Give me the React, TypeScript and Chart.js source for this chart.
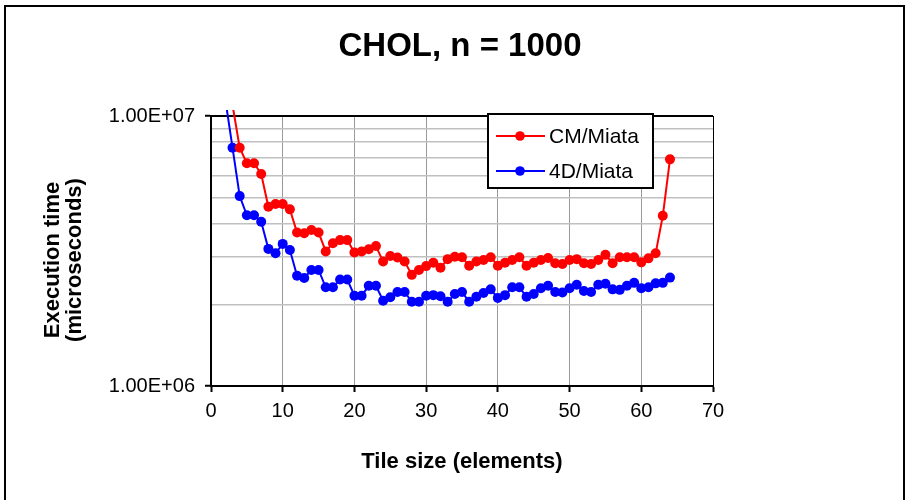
import React, { useEffect, useRef } from 'react';
import { Chart, registerables } from 'chart.js';

Chart.register(...registerables);

const chartTitle = 'CHOL, n = 1000';
const xAxisTitle = 'Tile size (elements)';
const yAxisTitle = ['Execution time', '(microseconds)'];
const seriesLabels = ['CM/Miata', '4D/Miata'];
const seriesColors = ['#FF0000', '#0000FF'];

// tile sizes (elements)
const tileSizes = [
  2, 3, 4, 5, 6, 7, 8, 9, 10, 11, 12, 13, 14, 15, 16, 17, 18, 19, 20, 21, 22, 23,
  24, 25, 26, 27, 28, 29, 30, 31, 32, 33, 34, 35, 36, 37, 38, 39, 40, 41, 42, 43,
  44, 45, 46, 47, 48, 49, 50, 51, 52, 53, 54, 55, 56, 57, 58, 59, 60, 61, 62, 63, 64,
];

// CM/Miata execution time (microseconds), no value at tile size 2
const cmMiata = [
  null, 1.1e7, 7.63e6, 6.68e6, 6.68e6, 6.1e6, 4.61e6, 4.72e6, 4.72e6, 4.51e6,
  3.7e6, 3.68e6, 3.78e6, 3.7e6, 3.15e6, 3.38e6, 3.47e6, 3.47e6, 3.12e6, 3.15e6,
  3.21e6, 3.3e6, 2.89e6, 3.03e6, 2.99e6, 2.89e6, 2.58e6, 2.69e6, 2.78e6, 2.86e6,
  2.74e6, 2.95e6, 3.01e6, 3.0e6, 2.79e6, 2.89e6, 2.93e6, 3.0e6, 2.79e6, 2.86e6,
  2.93e6, 3.0e6, 2.79e6, 2.86e6, 2.93e6, 2.98e6, 2.85e6, 2.83e6, 2.93e6, 2.95e6,
  2.85e6, 2.83e6, 2.93e6, 3.06e6, 2.85e6, 3.0e6, 3.0e6, 3.0e6, 2.87e6, 2.97e6,
  3.1e6, 4.27e6, 6.91e6,
];

// 4D/Miata execution time (microseconds)
const fdMiata = [
  1.15e7, 7.63e6, 5.05e6, 4.29e6, 4.29e6, 4.06e6, 3.22e6, 3.1e6, 3.36e6, 3.19e6,
  2.56e6, 2.51e6, 2.69e6, 2.69e6, 2.32e6, 2.32e6, 2.48e6, 2.48e6, 2.16e6, 2.16e6,
  2.35e6, 2.35e6, 2.07e6, 2.13e6, 2.23e6, 2.23e6, 2.05e6, 2.05e6, 2.16e6, 2.17e6,
  2.15e6, 2.05e6, 2.19e6, 2.23e6, 2.05e6, 2.14e6, 2.21e6, 2.28e6, 2.12e6, 2.17e6,
  2.32e6, 2.32e6, 2.14e6, 2.19e6, 2.3e6, 2.35e6, 2.23e6, 2.22e6, 2.3e6, 2.37e6,
  2.25e6, 2.23e6, 2.37e6, 2.39e6, 2.28e6, 2.27e6, 2.35e6, 2.41e6, 2.3e6, 2.32e6,
  2.4e6, 2.41e6, 2.52e6,
];

const xMin = 0;
const xMax = 70;
const xStep = 10;
const yMin = 1e6;
const yMax = 1e7;
// y gridline values (log minor grid)
const yGridValues = [1e6, 2e6, 3e6, 4e6, 5e6, 6e6, 7e6, 8e6, 9e6, 1e7];
const yLabelValues = [1e6, 1e7];
const yLabelTexts = ['1.00E+06', '1.00E+07'];

const FONT = '"Liberation Sans", Arial, sans-serif';

const framePlugin = {
  id: 'frameAndLegend',
  beforeDraw(chart: any) {
    const ctx = chart.ctx;
    ctx.save();
    ctx.fillStyle = '#ffffff';
    ctx.fillRect(0, 0, chart.width, chart.height);
    ctx.strokeStyle = '#000000';
    ctx.lineWidth = 2;
    ctx.strokeRect(5, 6, 899, 600);
    ctx.restore();
  },
  beforeDatasetsDraw(chart: any) {
    const { ctx, chartArea } = chart;
    ctx.save();
    ctx.strokeStyle = '#000000';
    ctx.lineWidth = 1;
    ctx.beginPath();
    ctx.moveTo(chartArea.left, chartArea.top + 0.5);
    ctx.lineTo(chartArea.right + 0.5, chartArea.top + 0.5);
    ctx.lineTo(chartArea.right + 0.5, chartArea.bottom);
    ctx.stroke();
    ctx.restore();
  },
  afterDraw(chart: any) {
    const { ctx, chartArea } = chart;
    ctx.save();
    // y-axis title (two lines, rotated), centred slightly below the plot middle
    ctx.fillStyle = '#000000';
    ctx.font = `bold 22px ${FONT}`;
    ctx.textAlign = 'center';
    ctx.textBaseline = 'middle';
    const cy = (chartArea.top + chartArea.bottom) / 2 + 9;
    yAxisTitle.forEach((line, i) => {
      ctx.save();
      ctx.translate(53 + i * 21.5, cy);
      ctx.rotate(-Math.PI / 2);
      ctx.fillText(line, 0, 0);
      ctx.restore();
    });

    // legend
    const x0 = chartArea.left + 277;
    const y0 = chartArea.top - 2;
    const w = 165;
    const h = 74;
    ctx.fillStyle = '#ffffff';
    ctx.fillRect(x0, y0, w, h);
    ctx.strokeStyle = '#000000';
    ctx.lineWidth = 2;
    ctx.strokeRect(x0, y0, w, h);
    chart.data.datasets.forEach((ds: any, i: number) => {
      const y = y0 + 22 + i * 35;
      ctx.strokeStyle = ds.borderColor;
      ctx.lineWidth = 2;
      ctx.beginPath();
      ctx.moveTo(x0 + 8, y);
      ctx.lineTo(x0 + 57, y);
      ctx.stroke();
      ctx.fillStyle = ds.backgroundColor;
      ctx.beginPath();
      ctx.arc(x0 + 32, y, 4.8, 0, Math.PI * 2);
      ctx.fill();
      ctx.fillStyle = '#000000';
      ctx.font = `21px ${FONT}`;
      ctx.textBaseline = 'middle';
      ctx.textAlign = 'left';
      ctx.fillText(ds.label, x0 + 61, y + 1);
    });
    ctx.restore();
  },
};

export default function App() {
  const ref = useRef<HTMLCanvasElement>(null);
  useEffect(() => {
    document.body.style.margin = '0';
    const mk = (vals: (number | null)[], i: number) => ({
      label: seriesLabels[i],
      data: tileSizes.map((x, k) => ({ x, y: vals[k] })),
      borderColor: seriesColors[i],
      backgroundColor: seriesColors[i],
      borderWidth: 2,
      pointRadius: (c: any) => (c.raw && c.raw.y != null && c.raw.y > yMax ? 0 : 5),
      pointBorderWidth: 0,
      pointBackgroundColor: seriesColors[i],
      tension: 0,
      clip: { left: 2, top: 6, right: 2, bottom: 2 },
    });
    const chart = new Chart(ref.current as HTMLCanvasElement, {
      type: 'line',
      data: { datasets: [mk(cmMiata, 0), mk(fdMiata, 1)] as any },
      plugins: [framePlugin],
      options: {
        animation: false,
        responsive: false,
        events: [],
        layout: { padding: { left: 11, right: 0, top: 0, bottom: 0 } },
        plugins: {
          legend: { display: false },
          tooltip: { enabled: false },
          title: {
            display: true,
            text: chartTitle,
            color: '#000',
            font: { family: FONT, size: 33, weight: 'bold', lineHeight: 1.2 },
            padding: { top: 27, bottom: 49.4 },
          },
        },
        scales: {
          x: {
            type: 'linear',
            min: xMin,
            max: xMax,
            ticks: {
              stepSize: xStep,
              color: '#000',
              font: { family: FONT, size: 20 },
              padding: 7,
              maxRotation: 0,
            },
            grid: {
              color: (c: any) => (c.tick && c.tick.value === xMax ? '#000' : '#999999'),
              lineWidth: 1,
              drawTicks: true,
              tickLength: 6,
              tickColor: '#000',
              tickWidth: 2,
            },
            border: { display: true, color: '#000', width: 2 },
            title: {
              display: true,
              text: xAxisTitle,
              color: '#000',
              font: { family: FONT, size: 22, weight: 'bold', lineHeight: 1.2 },
              padding: { top: 0, bottom: 24.8 },
            },
            afterFit: (s: any) => {
              s.height = 114;
            },
          } as any,
          y: {
            type: 'logarithmic',
            min: yMin,
            max: yMax,
            afterBuildTicks: (s: any) => {
              s.ticks = yGridValues.map((value) => ({ value }));
            },
            ticks: {
              autoSkip: false,
              color: '#000',
              font: { family: FONT, size: 20 },
              padding: 10,
              callback: (v: any) => {
                const idx = yLabelValues.indexOf(Number(v));
                return idx >= 0 ? yLabelTexts[idx] : '';
              },
            },
            grid: {
              color: (c: any) => (c.tick && c.tick.value === yMax ? '#000' : '#c0c0c0'),
              lineWidth: 1.5,
              drawTicks: true,
              tickLength: 6,
              tickWidth: 2,
              tickColor: (c: any) =>
                c.tick && yLabelValues.indexOf(c.tick.value) >= 0 ? '#000' : 'rgba(0,0,0,0)',
            },
            border: { display: true, color: '#000', width: 2 },
            title: { display: false },
            afterFit: (s: any) => {
              s.width = 200;
            },
          } as any,
          y2: {
            position: 'right',
            display: true,
            grid: { display: false, drawTicks: false },
            border: { display: false },
            ticks: { display: false },
            afterFit: (s: any) => {
              s.width = 196;
            },
          } as any,
        },
      },
    });
    return () => chart.destroy();
  }, []);
  return (
    <div style={{ width: 909, height: 500 }}>
      <canvas ref={ref} width={909} height={500} style={{ display: 'block' }} />
    </div>
  );
}
